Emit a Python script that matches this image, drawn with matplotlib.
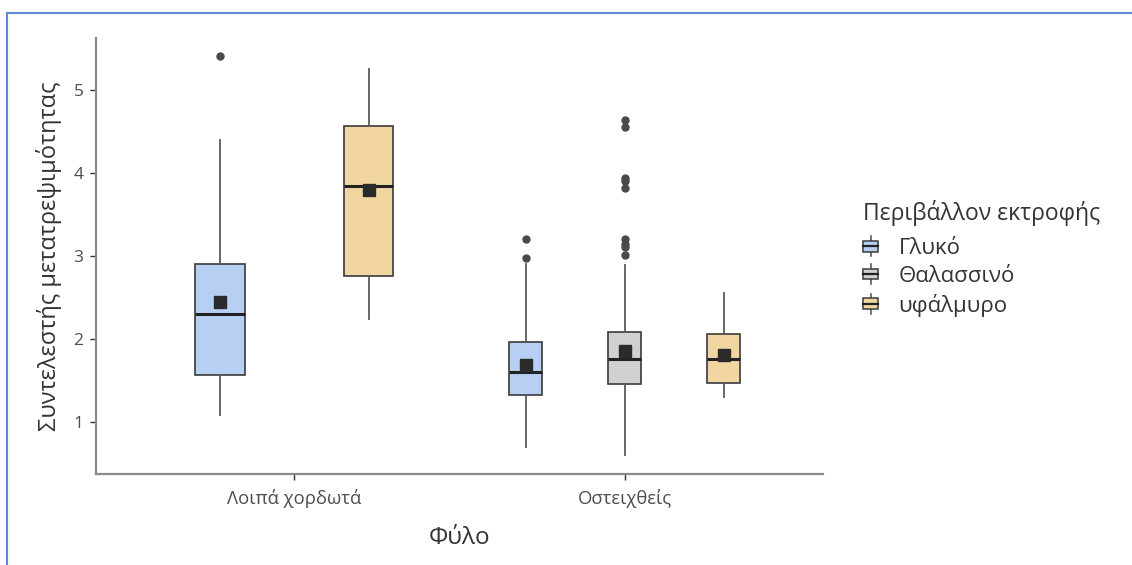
import matplotlib
matplotlib.use("Agg")
from matplotlib import pyplot as plt
from matplotlib.legend_handler import HandlerBase
from matplotlib.patches import Rectangle, Patch
from matplotlib.lines import Line2D

plt.rcParams['font.family'] = ['Open Sans', 'DejaVu Sans']

# categories
phyla = ["Λοιπά χορδωτά", "Οστειχθείς"]
envs = ["Γλυκό", "Θαλασσινό", "υφάλμυρο"]
env_colors = ["#b7cff3", "#d0d0d0", "#f2d6a1"]

# one entry per drawn box
box_phylum = [0, 0, 1, 1, 1]
box_env = [0, 2, 0, 1, 2]
whislo = [1.08, 2.24, 0.70, 0.60, 1.30]
q1 = [1.57, 2.76, 1.32, 1.46, 1.47]
med = [2.30, 3.84, 1.60, 1.76, 1.76]
q3 = [2.90, 4.57, 1.97, 2.08, 2.06]
whishi = [4.40, 5.25, 2.90, 2.89, 2.56]
means = [2.45, 3.79, 1.69, 1.85, 1.81]
fliers = [[5.41], [], [3.21, 2.98],
          [4.64, 4.56, 3.94, 3.90, 3.82, 3.20, 3.15, 3.11, 3.01], []]

fig = plt.figure(figsize=(11.32, 5.65), dpi=100)
ax = fig.add_axes([0.0848, 0.161, 0.6422, 0.7717])

# dodge the boxes inside each phylum like ggplot does
for i in range(len(box_phylum)):
    p = box_phylum[i]
    members = [j for j in range(len(box_phylum)) if box_phylum[j] == p]
    n = len(members)
    k = members.index(i)
    pos = p + 1 + (k - (n - 1) / 2) * 0.9 / n
    stats = [{'whislo': whislo[i], 'q1': q1[i], 'med': med[i], 'q3': q3[i],
              'whishi': whishi[i], 'mean': means[i], 'fliers': fliers[i]}]
    ax.bxp(stats, positions=[pos], widths=0.3 / n, patch_artist=True,
           showmeans=True, showcaps=False,
           boxprops=dict(facecolor=env_colors[box_env[i]], edgecolor='#3a3a3a', linewidth=1.2),
           medianprops=dict(color='#222222', linewidth=2.2),
           whiskerprops=dict(color='#5a5a5a', linewidth=1.3),
           meanprops=dict(marker='s', markerfacecolor='#2b2b2b', markeredgecolor='#2b2b2b', markersize=9),
           flierprops=dict(marker='o', markerfacecolor='#4a4a4a', markeredgecolor='#4a4a4a', markersize=5))

ax.set_xlim(0.4, 2.6)
ax.set_ylim(0.373, 5.627)
ax.set_xticks([1, 2])
ax.set_xticklabels(phyla)
ax.set_yticks([1, 2, 3, 4, 5])
ax.tick_params(axis='y', labelsize=12.5, labelcolor='#4d4d4d', color='#333333', length=4, width=1, pad=5)
ax.tick_params(axis='x', labelsize=13.3, labelcolor='#4d4d4d', color='#333333', length=4, width=1, pad=7)
for s in ['top', 'right']:
    ax.spines[s].set_visible(False)
for s in ['left', 'bottom']:
    ax.spines[s].set_color('#8a8a8a')
    ax.spines[s].set_linewidth(1.6)
ax.set_xlabel("Φύλο", fontsize=17.5, color='#333333', labelpad=13)
ax.set_ylabel("Συντελεστής μετατρεψιμότητας", fontsize=17, color='#333333', labelpad=8)


# boxplot key glyph for the legend
class BoxKey(HandlerBase):
    def create_artists(self, legend, orig_handle, xdescent, ydescent, width, height, fontsize, trans):
        x0, y0 = -xdescent, -ydescent
        cx = x0 + width / 2
        wl = Line2D([cx, cx], [y0 - 0.25 * height, y0 + 1.25 * height], color='#5a5a5a', lw=1.2, transform=trans)
        r = Rectangle((x0, y0 + 0.1 * height), width, 0.8 * height,
                      facecolor=orig_handle.get_facecolor(), edgecolor='#3a3a3a', lw=1.1, transform=trans)
        ml = Line2D([x0, x0 + width], [y0 + 0.5 * height] * 2, color='#222222', lw=1.6, transform=trans)
        return [wl, r, ml]


handles = [Patch(facecolor=c) for c in env_colors]
leg = fig.legend(handles, envs, title="Περιβάλλον εκτροφής", loc='upper left',
                 bbox_to_anchor=(0.745, 0.682), frameon=False, fontsize=16,
                 title_fontsize=16.5, handlelength=0.68, handleheight=0.55,
                 handletextpad=0.9, labelspacing=0.3, alignment='left',
                 handler_map={Patch: BoxKey()})
leg._legend_box.sep = 9  # a bit more room under the title
for t in leg.get_texts():
    t.set_color('#333333')
leg.get_title().set_color('#333333')

# blue frame of the screenshot
fig.add_artist(Line2D([6.5 / 1132, 1], [1 - 12.5 / 565] * 2, transform=fig.transFigure, color='#5b8bd0', lw=1.5))
fig.add_artist(Line2D([6.5 / 1132] * 2, [0, 1 - 12.5 / 565], transform=fig.transFigure, color='#5b8bd0', lw=1.5))

fig.savefig("out.png", dpi=100)
